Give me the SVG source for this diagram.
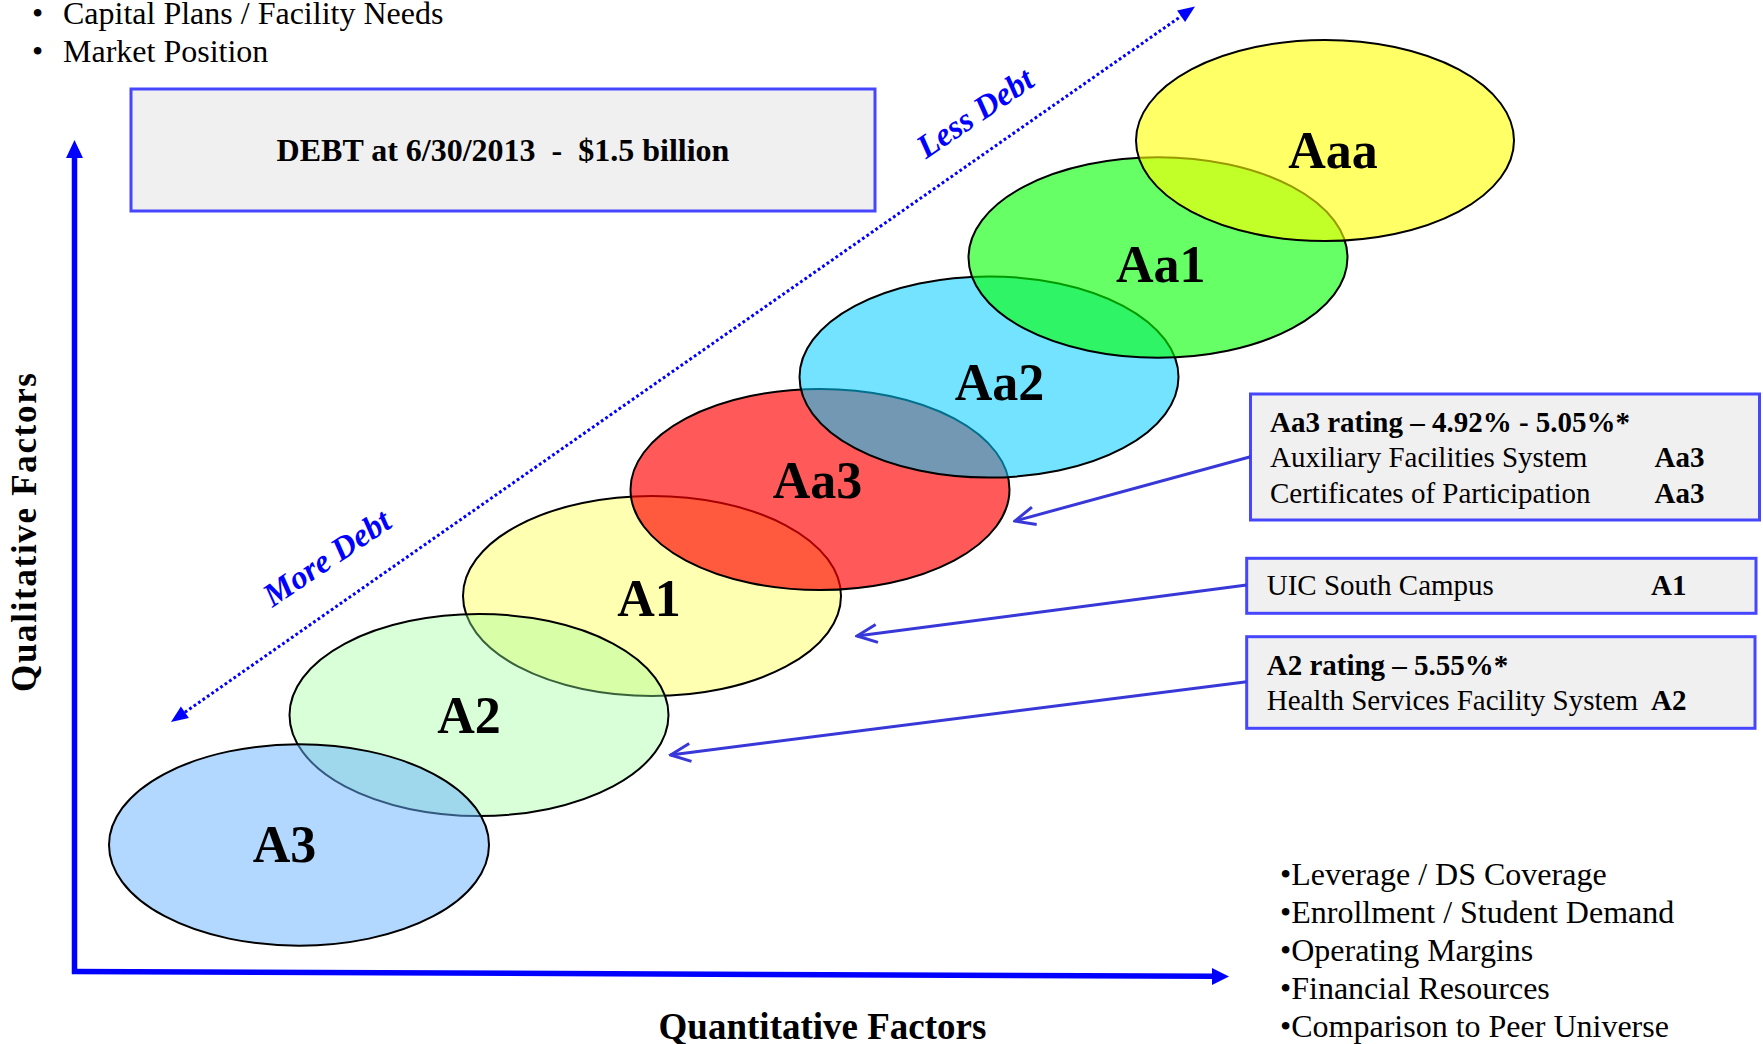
<svg xmlns="http://www.w3.org/2000/svg" width="1763" height="1044" viewBox="0 0 1763 1044">
<style>
  text { font-family: "Liberation Serif", "Times New Roman", serif; fill: #000; }
  .list { font-size: 32px; }
  .box { fill: #f0f0f0; stroke: #4646ff; stroke-width: 3; }
  .boxtxt { font-size: 29px; }
  .b { font-weight: bold; }
  .ell { stroke: #000; stroke-width: 2; }
  .lbl { font-size: 52px; font-weight: bold; text-anchor: middle; }
  .axis { stroke: #0000ff; stroke-width: 5.5; fill: none; }
  .conn { stroke: #3838d8; stroke-width: 3; fill: none; }
  .dots { stroke: #0000ff; stroke-width: 3; stroke-dasharray: 2.8 2.6; fill: none; }
  .debt { font-size: 33px; font-weight: bold; font-style: italic; fill: #0000ff; text-anchor: middle; }
</style>
<defs>
  <marker id="open" markerUnits="userSpaceOnUse" viewBox="-24 -12 26 24" markerWidth="26" markerHeight="24" refX="0" refY="0" orient="auto">
    <path d="M-20,-9 L0,0 L-20,9" fill="none" stroke="#3838d8" stroke-width="3" stroke-linejoin="miter"/>
  </marker>
</defs>

<!-- top bullet list -->
<g id="top-list">
  <text class="list" x="32" y="24">•</text>
  <text class="list" x="63" y="24">Capital Plans / Facility Needs</text>
  <text class="list" x="32" y="62">•</text>
  <text class="list" x="63" y="62">Market Position</text>
</g>

<!-- debt box -->
<g id="debt-box">
  <rect class="box" x="131" y="89" width="744" height="122"/>
  <text x="503" y="161" font-size="32" font-weight="bold" text-anchor="middle" xml:space="preserve">DEBT at 6/30/2013  -  $1.5 billion</text>
</g>

<!-- axes -->
<g id="axes">
  <line class="axis" x1="74.5" y1="974" x2="74.5" y2="156"/>
  <polygon points="74.5,140 66,158 83,158" fill="#0000ff"/>
  <line class="axis" x1="72" y1="971.5" x2="1214" y2="976.3"/>
  <polygon points="1229,976.5 1212,968 1212,985" fill="#0000ff"/>
  <text x="36" y="532.5" font-size="35" font-weight="bold" text-anchor="middle" textLength="319" lengthAdjust="spacing" transform="rotate(-90 36 532.5)">Qualitative Factors</text>
  <text x="822.5" y="1039" font-size="37" font-weight="bold" text-anchor="middle">Quantitative Factors</text>
</g>

<!-- debt direction arrow -->
<g id="debt-direction">
  <line class="dots" x1="184.9" y1="712.3" x2="1181.1" y2="16.2"/>
  <polygon points="1195,6.5 1185.1,21.9 1177.1,10.5" fill="#0000ff"/>
  <polygon points="171,722 188.9,718 180.9,706.6" fill="#0000ff"/>
  <text class="debt" x="981" y="122" transform="rotate(-34 981 122)">Less Debt</text>
  <text class="debt" x="333" y="567" transform="rotate(-34 333 567)">More Debt</text>
</g>

<!-- rating ellipses -->
<g id="node-A1">
  <ellipse class="ell" cx="652" cy="596" rx="189" ry="100" fill="#ffff00" fill-opacity="0.3"/>
  <text class="lbl" x="649" y="616">A1</text>
</g>
<g id="node-A2">
  <ellipse class="ell" cx="479" cy="715" rx="189.5" ry="101" fill="#99ff99" fill-opacity="0.38"/>
  <text class="lbl" x="469" y="733">A2</text>
</g>
<g id="node-A3">
  <ellipse class="ell" cx="299" cy="845" rx="190" ry="100.7" fill="#66b2ff" fill-opacity="0.5"/>
  <text class="lbl" x="284.5" y="862">A3</text>
</g>
<g id="node-Aa3">
  <ellipse class="ell" cx="820" cy="489.5" rx="189.5" ry="100.5" fill="#ff0000" fill-opacity="0.65"/>
  <text class="lbl" x="817.5" y="498">Aa3</text>
</g>
<g id="node-Aa2">
  <ellipse class="ell" cx="989" cy="377" rx="189.5" ry="100.6" fill="#00ccff" fill-opacity="0.55"/>
  <text class="lbl" x="999.6" y="400">Aa2</text>
</g>
<g id="node-Aa1">
  <ellipse class="ell" cx="1158" cy="257.5" rx="189.5" ry="100.3" fill="#00ff00" fill-opacity="0.6"/>
  <text class="lbl" x="1160.7" y="281.7">Aa1</text>
</g>
<g id="node-Aaa">
  <ellipse class="ell" cx="1325" cy="140.5" rx="189" ry="100.5" fill="#ffff00" fill-opacity="0.6"/>
  <text class="lbl" x="1333" y="168">Aaa</text>
</g>

<!-- info boxes -->
<g id="box-Aa3">
  <rect class="box" x="1250.5" y="394" width="509" height="126"/>
  <text class="boxtxt b" x="1270" y="431.7" xml:space="preserve">Aa3 rating – 4.92% - 5.05%*</text>
  <text class="boxtxt" x="1270" y="467">Auxiliary Facilities System</text>
  <text class="boxtxt b" x="1654.6" y="467">Aa3</text>
  <text class="boxtxt" x="1270" y="503">Certificates of Participation</text>
  <text class="boxtxt b" x="1654.6" y="503">Aa3</text>
</g>
<g id="box-A1">
  <rect class="box" x="1246.7" y="558.3" width="509.3" height="55"/>
  <text class="boxtxt" x="1266.7" y="595">UIC South Campus</text>
  <text class="boxtxt b" x="1651" y="595">A1</text>
</g>
<g id="box-A2">
  <rect class="box" x="1246.7" y="636.7" width="508.3" height="91.6"/>
  <text class="boxtxt b" x="1266.7" y="675">A2 rating – 5.55%*</text>
  <text class="boxtxt" x="1266.7" y="710">Health Services Facility System</text>
  <text class="boxtxt b" x="1651" y="710">A2</text>
</g>

<!-- connectors -->
<g id="connectors">
  <line class="conn" x1="1250.5" y1="456.7" x2="1015" y2="521" marker-end="url(#open)"/>
  <line class="conn" x1="1246.7" y1="585" x2="857" y2="636" marker-end="url(#open)"/>
  <line class="conn" x1="1246.7" y1="681.7" x2="670.5" y2="755" marker-end="url(#open)"/>
</g>

<!-- bottom bullet list -->
<g id="bottom-list">
  <text class="list" x="1280" y="885">•Leverage / DS Coverage</text>
  <text class="list" x="1280" y="923">•Enrollment / Student Demand</text>
  <text class="list" x="1280" y="961">•Operating Margins</text>
  <text class="list" x="1280" y="999">•Financial Resources</text>
  <text class="list" x="1280" y="1037">•Comparison to Peer Universe</text>
</g>
</svg>
